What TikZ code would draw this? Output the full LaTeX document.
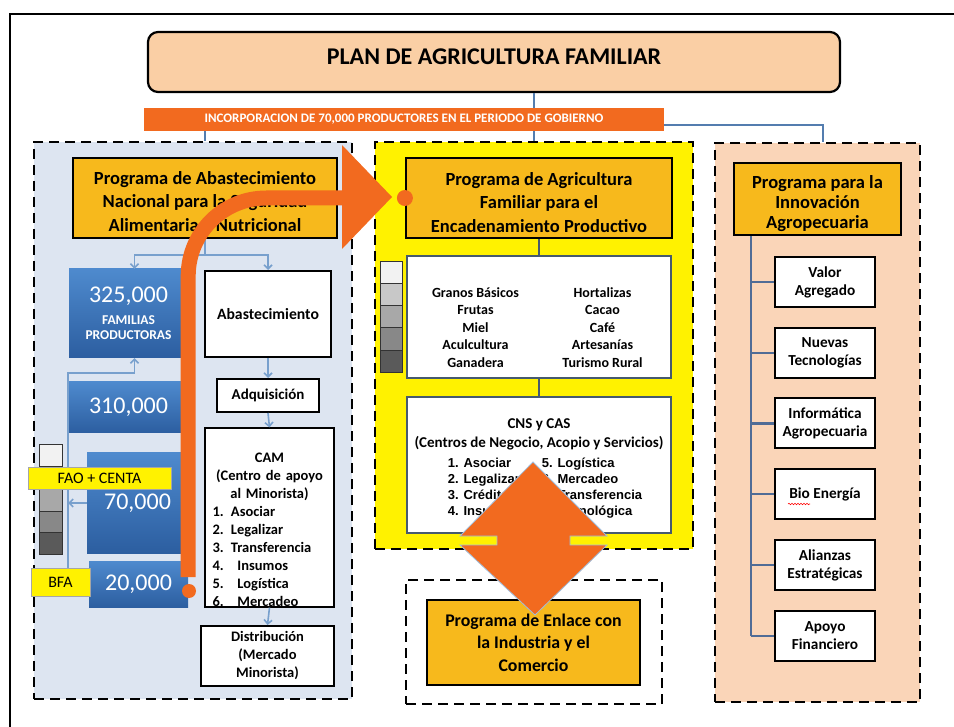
\documentclass[tikz,border=0pt]{standalone}
\usepackage{fontspec}
\setmainfont{Carlito}
\newfontfamily\arialfont{Liberation Sans}
\usepackage{array}
\usetikzlibrary{arrows.meta,decorations.pathmorphing}

\definecolor{peach}{RGB}{250,207,165}
\definecolor{gold}{RGB}{247,185,28}
\definecolor{paleblue}{RGB}{221,229,241}
\definecolor{lightpeach}{RGB}{250,213,184}
\definecolor{brandorange}{RGB}{242,106,31}
\definecolor{linkblue}{RGB}{84,125,175}
\definecolor{arrowblue}{RGB}{120,160,205}
\definecolor{famtop}{RGB}{78,138,206}
\definecolor{fambot}{RGB}{44,94,160}
\definecolor{treeblue}{RGB}{80,108,150}
\definecolor{chainline}{RGB}{70,90,110}
\definecolor{grey1}{RGB}{242,242,242}
\definecolor{grey2}{RGB}{200,200,200}
\definecolor{grey3}{RGB}{168,168,168}
\definecolor{grey4}{RGB}{136,136,136}
\definecolor{grey5}{RGB}{90,90,90}

\tikzset{
  titlebox/.style={draw=black, line width=2.2pt, fill=peach, rounded corners=10pt,
    minimum width=692pt, minimum height=60pt, font=\fontsize{24}{28}\selectfont\bfseries},
  bandbox/.style={fill=brandorange, text=white, minimum width=520pt, minimum height=23pt,
    inner sep=0pt, font=\fontsize{13}{15}\selectfont\bfseries},
  frame/.style={draw=black, line width=2.8pt, dash pattern=on 10pt off 6pt, inner sep=0pt},
  progbox/.style={draw=black, line width=2.2pt, fill=gold, align=center, inner sep=0pt,
    font=\fontsize{18.5}{23.5}\selectfont\bfseries},
  whitebox/.style={draw=black, line width=2pt, fill=white, align=center, inner sep=0pt,
    font=\fontsize{14.5}{18}\selectfont\bfseries},
  itembox/.style={whitebox, minimum width=100pt, minimum height=50pt,
    font=\fontsize{15.3}{18}\selectfont\bfseries},
  chainbox/.style={draw=chainline, line width=2pt, fill=white, align=center, inner sep=0pt,
    minimum width=264pt},
  fambox/.style={top color=famtop, bottom color=fambot, text=white, align=center,
    inner sep=0pt, font=\fontsize{24}{26}\selectfont},
  tagbox/.style={fill=yellow, draw=black!35, line width=0.6pt, inner sep=0pt,
    font=\fontsize{16}{18}\selectfont},
  link/.style={draw=linkblue, line width=2pt},
  tree/.style={draw=treeblue, line width=2.4pt},
  chain/.style={draw=chainline, line width=2pt},
  sarrow/.style={draw=arrowblue, line width=1.6pt, -{Straight Barb[length=4pt,width=8pt]}},
  shade/.style={draw=black!80, line width=1pt}
}

\begin{document}
\begin{tikzpicture}[x=1pt,y=-1pt]
\useasboundingbox (0,0) rectangle (954,727);
% marco exterior
\draw[line width=2pt] (10,727) -- (10,14) -- (954,14);

% titulo
\node[titlebox] (title) at (494,62) {\rule[-10pt]{0pt}{10pt}PLAN DE AGRICULTURA FAMILIAR};

% marcos de los programas
\node[frame, fill=paleblue, minimum width=318pt, minimum height=557pt] (leftframe) at (193,420.5) {};
\node[frame, fill=yellow, minimum width=318pt, minimum height=407pt] (midframe) at (534,345.5) {};
\node[frame, fill=lightpeach, minimum width=205pt, minimum height=559pt] (rightframe) at (817.5,422.5) {};
\node[frame, fill=white, minimum width=256pt, minimum height=124pt] (botframe) at (534,642) {};

\draw[link] (title.south -| midframe.north) -- (midframe.north);
\node[bandbox] (band) at (404,119.5) {INCORPORACION DE 70,000 PRODUCTORES EN EL PERIODO DE GOBIERNO};

% programas
\node[progbox, minimum width=264pt, minimum height=80pt] (lefttitle) at (205,198) {\rule{0pt}{22pt}Programa de Abastecimiento\\Nacional para la Seguridad\\Alimentaria y Nutricional};
\node[progbox, minimum width=266pt, minimum height=80pt] (midtitle) at (539,198) {\rule{0pt}{22pt}Programa de Agricultura\\Familiar para el\\Encadenamiento Productivo};
\node[progbox, minimum width=167pt, minimum height=72pt, font=\fontsize{18.5}{20}\selectfont\bfseries] (righttitle) at (817.5,199) {\rule{0pt}{22pt}Programa para la\\Innovación\\Agropecuaria};
\node[progbox, minimum width=213pt, minimum height=85pt, font=\fontsize{17.8}{22.5}\selectfont\bfseries] (enlace) at (533.5,642.5) {Programa de Enlace con\\la Industria y el\\Comercio};

\draw[link] (band.south -| lefttitle.north) -- (leftframe.north -| lefttitle.north);
\draw[link] ([yshift=-6pt]band.east) -| ([xshift=5pt]rightframe.north);

% abastecimiento: familias
\node[fambox, minimum width=119pt, minimum height=89pt] (fam325) at (128.5,313.5) {325,000\\[-4pt]{\fontsize{13.5}{15}\selectfont\bfseries FAMILIAS}\\[-11pt]{\fontsize{13.5}{15}\selectfont\bfseries PRODUCTORAS}};
\node[fambox, minimum width=119pt, minimum height=51pt] (fam310) at (128.5,407.5) {310,000};
\node[fambox, minimum width=101pt, minimum height=100pt] (fam70) at (137.5,503) {70,000};
\node[fambox, minimum width=99pt, minimum height=46pt] (fam20) at (138.5,584) {20,000};

% abastecimiento: cadena
\node[whitebox, minimum width=126pt, minimum height=86pt, font=\fontsize{15.7}{18}\selectfont\bfseries] (abast) at (268,314) {Abastecimiento};
\node[whitebox, minimum width=102pt, minimum height=33pt, font=\fontsize{15}{18}\selectfont\bfseries] (adq) at (268,395.5) {Adquisición};
\node[whitebox, minimum width=129pt, minimum height=175pt, text width=114pt, align=left] (cam) at (269.5,517.5)
  {{\centering\rule{0pt}{34pt}CAM\\(Centro de apoyo\\al Minorista)\par}
   1. Asociar\\2. Legalizar\\3. Transferencia\\
   \makebox[25pt][l]{4.}Insumos\\\makebox[25pt][l]{5.}Logística\\\makebox[25pt][l]{6.}Mercadeo};
\node[whitebox, minimum width=133pt, minimum height=60pt] (distr) at (267.5,656) {Distribución\\(Mercado\\Minorista)};

\draw[sarrow] (lefttitle.south) -- ++(0,16) -| ([xshift=6pt]fam325.north);
\draw[sarrow] (lefttitle.south) -- ++(0,16) -| (abast.north);
\draw[sarrow] (abast.south) -- (adq.north);
\draw[sarrow] (adq.south) -- (cam.north);
\draw[sarrow] (cam.south) -- (distr.north);
\coordinate (stack) at (68,568);
\draw[sarrow] (stack) -- (68,373) -| ([xshift=6pt]fam325.south);
\draw[sarrow] (fam70.west) -- (fam70.west -| stack);

% escala de grises
\filldraw[shade, fill=grey1] (39,445) rectangle (62,467);
\filldraw[shade, fill=grey2] (39,467) rectangle (62,489);
\filldraw[shade, fill=grey3] (39,489) rectangle (62,511);
\filldraw[shade, fill=grey4] (39,511) rectangle (62,532);
\filldraw[shade, fill=grey5] (39,532) rectangle (62,554);
\filldraw[shade, fill=grey1] (380,262) rectangle (402,284);
\filldraw[shade, fill=grey2] (380,284) rectangle (402,306);
\filldraw[shade, fill=grey3] (380,306) rectangle (402,328);
\filldraw[shade, fill=grey4] (380,328) rectangle (402,351);
\filldraw[shade, fill=grey5] (380,351) rectangle (402,373);

\node[tagbox, minimum width=143pt, minimum height=22pt] (fao) at (99.5,478) {FAO + CENTA};
\node[tagbox, minimum width=59pt, minimum height=28pt] (bfa) at (60.5,582) {BFA};

% encadenamiento productivo
\node[chainbox, minimum height=122pt, font=\fontsize{14}{17.5}\selectfont\bfseries] (prod) at (539,317)
  {\begin{tabular}{@{}>{\centering\arraybackslash}p{127pt}@{}>{\centering\arraybackslash}p{127pt}@{}}
   \rule{0pt}{36pt}Granos Básicos & Hortalizas\\ Frutas & Cacao\\ Miel & Café\\
   Aculcultura & Artesanías\\ Ganadera & Turismo Rural
   \end{tabular}};
\node[chainbox, minimum height=136pt, font=\fontsize{15}{19}\selectfont\bfseries] (cns) at (539,465)
  {\rule{0pt}{18pt}CNS y CAS\\
   (Centros de Negocio, Acopio y Servicios)\\[1pt]
   \hspace{12pt}{\arialfont\fontsize{13}{16}\selectfont\bfseries
   \begin{tabular}[t]{@{}p{94pt}@{}l@{}}
   1. Asociar & 5. Logística\\ 2. Legalizar & 6. Mercadeo\\
   3. Crédito & 7. Transferencia\\ 4. Insumos & \phantom{7. }Tecnológica
   \end{tabular}}};
\draw[chain] (midtitle.south) -- (prod.north);
\draw[chain] (prod.south) -- (cns.north);

% innovacion agropecuaria
\node[itembox] (valor) at (825,282) {Valor\\Agregado};
\node[itembox] (nuevas) at (825,353) {Nuevas\\Tecnologías};
\node[itembox] (info) at (825,423.5) {Informática\\Agropecuaria};
\node[itembox] (bio) at (825,494) {Bio Energía};
\node[itembox] (alianzas) at (825,565) {Alianzas\\Estratégicas};
\node[itembox] (apoyo) at (825,636) {Apoyo\\Financiero};
\coordinate (trunk) at (751,0);
\draw[tree] (righttitle.south -| trunk) -- (trunk |- apoyo.west);
\draw[tree] (trunk |- valor.west) -- (valor.west);
\draw[tree] (trunk |- nuevas.west) -- (nuevas.west);
\draw[tree] (trunk |- info.west) -- (info.west);
\draw[tree] (trunk |- bio.west) -- (bio.west);
\draw[tree] (trunk |- alianzas.west) -- (alianzas.west);
\draw[tree] (trunk |- apoyo.west) -- (apoyo.west);
\draw[red, line width=0.6pt, decorate, decoration={snake, amplitude=0.7pt, segment length=3pt}]
  ([xshift=-37pt, yshift=-10pt]bio.center) -- ([xshift=-15pt, yshift=-10pt]bio.center);

% flechas naranjas
\draw[brandorange, line width=15pt, rounded corners=78pt] (fam20.east |- 0,577) |- (344,198);
\fill[brandorange] (342,145) -- (392,197) -- (342,249) -- cycle;
\fill[brandorange] (189,591) circle (7pt);
\fill[brandorange] (midtitle.west) circle (8pt);
\filldraw[fill=brandorange, draw=arrowblue!70, line width=0.8pt]
  (533,462) -- (607,536) -- (570,536) -- (570,545) -- (607,545) -- (535,615)
  -- (460,545) -- (497,545) -- (497,536) -- (460,536) -- cycle;
\end{tikzpicture}
\end{document}
